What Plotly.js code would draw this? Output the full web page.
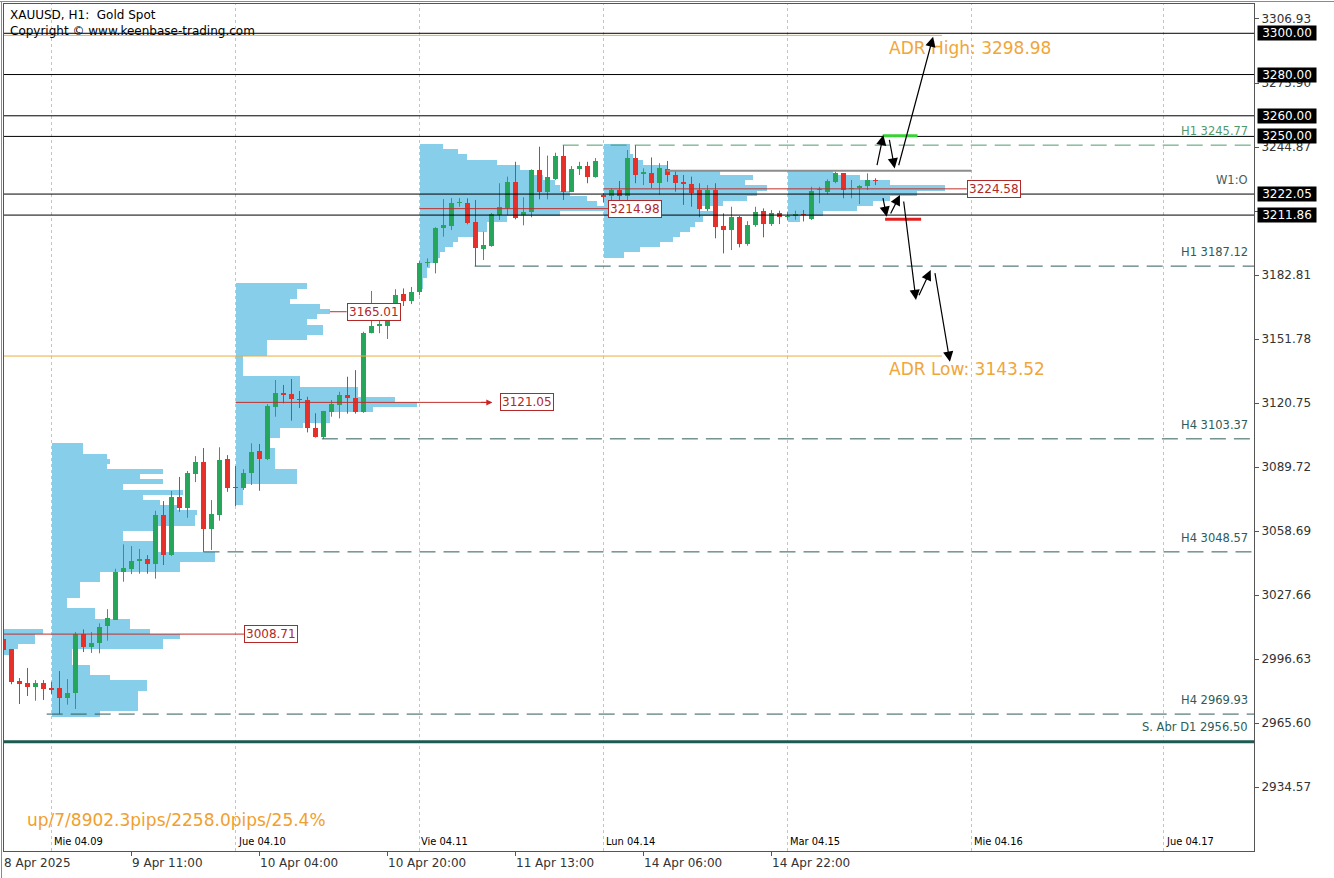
<!DOCTYPE html>
<html><head><meta charset="utf-8">
<script src="https://cdn.plot.ly/plotly-3.0.1.min.js"></script>
<style>html,body{margin:0;padding:0;background:#fff}#chart{width:1334px;height:878px}</style>
</head><body><div id="chart"></div>
<script>
// ---------------- DATA ----------------
const opens = [3006.3,3001.3,2986.0,2985.0,2983.3,2985.0,2982.7,2982.7,2977.9,2980.0,
3008.6,3002.6,3004.2,3012.8,3015.7,3038.8,3040.3,3044.0,3045.2,3042.7,
3066.4,3047.1,3075.2,3070.0,3086.2,3092.1,3059.7,3066.4,3093.6,3080.0,
3079.4,3086.6,3097.5,3093.6,3118.9,3125.6,3124.9,3122.7,3122.1,3108.5,
3104.4,3116.5,3119.8,3124.6,3123.3,3116.5,3154.5,3158.3,3158.2,3162.9,
3173.6,3170.3,3174.5,3188.5,3188.8,3205.5,3206.7,3217.8,3217.9,3208.6,
3195.4,3197.0,3211.9,3215.4,3228.1,3212.1,3213.5,3233.7,3223.2,3229.2,
3240.6,3223.2,3234.1,3235.7,3230.5,3221.6,3221.1,3224.0,3221.1,3239.4,
3231.6,3232.4,3227.3,3234.1,3231.3,3228.0,3226.9,3224.0,3214.9,3224.0,
3206.6,3204.6,3210.8,3197.8,3207.0,3213.9,3207.5,3212.7,3211.0,3211.6,
3212.4,3209.8,3224.0,3223.2,3227.7,3232.1,3224.7,3225.2,3225.9,3228.8];
const highs = [3006.8,3001.5,2987.4,2992.3,2986.4,2986.4,2985.6,2990.8,2986.9,3009.7,
3011.0,3009.7,3013.9,3020.8,3040.4,3052.2,3051.4,3050.0,3047.0,3068.5,
3073.2,3078.1,3084.9,3087.8,3095.0,3098.9,3073.7,3099.3,3095.5,3090.2,
3088.7,3101.2,3100.9,3120.2,3131.9,3129.5,3132.4,3126.6,3123.8,3115.8,
3116.9,3122.2,3126.2,3133.5,3136.7,3155.3,3175.1,3164.4,3166.8,3175.9,
3176.3,3177.0,3189.5,3190.9,3206.0,3219.6,3220.1,3220.1,3220.0,3219.2,
3203.8,3212.9,3227.3,3230.5,3237.7,3220.5,3234.0,3245.0,3240.7,3242.1,
3245.77,3235.6,3237.7,3237.7,3239.5,3222.5,3224.8,3228.4,3243.4,3245.8,
3234.5,3239.8,3237.0,3238.1,3233.7,3231.3,3230.5,3227.3,3226.4,3227.3,
3212.7,3215.9,3211.4,3208.9,3215.9,3215.1,3214.3,3214.0,3213.5,3214.0,
3214.3,3225.6,3225.6,3229.2,3232.9,3232.1,3228.9,3226.4,3232.1,3229.7];
const lows = [3000.5,2984.4,2974.8,2978.7,2976.4,2976.8,2979.7,2970.0,2974.5,2972.4,
3000.0,2999.6,2999.4,3005.5,3015.6,3034.1,3037.8,3038.0,3038.0,3035.6,
3042.2,3046.6,3068.0,3065.1,3082.4,3048.6,3049.5,3063.7,3077.7,3070.8,
3078.6,3081.0,3078.2,3093.1,3114.1,3120.6,3112.2,3118.3,3106.5,3104.0,
3103.4,3114.1,3113.3,3115.6,3115.6,3116.0,3154.5,3154.6,3151.8,3162.5,
3167.8,3168.7,3173.0,3186.8,3183.6,3201.4,3204.6,3215.9,3207.4,3187.1,
3190.1,3196.5,3209.5,3211.9,3209.8,3206.9,3210.8,3219.5,3219.5,3228.9,
3219.2,3223.0,3231.3,3227.3,3230.0,3218.0,3217.6,3216.8,3216.8,3227.3,
3226.4,3225.0,3221.6,3228.0,3223.2,3216.8,3215.9,3210.8,3213.8,3200.6,
3193.3,3194.9,3196.2,3197.0,3206.2,3201.1,3206.6,3207.5,3209.5,3209.6,
3208.8,3209.5,3217.6,3222.0,3227.3,3220.0,3220.0,3217.2,3224.0,3226.4];
const closes = [3001.0,2985.6,2984.5,2983.2,2985.0,2982.2,2981.4,2977.9,2980.0,3008.6,
3002.6,3004.3,3012.0,3016.5,3038.8,3041.0,3044.1,3045.2,3042.7,3066.4,
3047.1,3075.2,3070.0,3086.7,3092.1,3059.7,3066.8,3093.1,3079.5,3079.5,
3087.0,3097.0,3093.6,3119.4,3125.4,3124.6,3122.5,3122.2,3108.5,3104.4,
3116.9,3120.1,3124.6,3123.0,3116.5,3154.8,3158.2,3158.9,3162.9,3173.3,
3170.3,3174.4,3188.8,3189.3,3205.7,3206.9,3217.6,3218.2,3208.2,3195.8,
3197.4,3212.2,3215.6,3228.1,3210.3,3213.3,3233.7,3223.2,3230.5,3240.6,
3223.2,3234.2,3235.7,3230.5,3238.1,3220.7,3224.0,3221.1,3239.4,3231.3,
3232.6,3227.3,3234.8,3231.3,3227.6,3226.8,3222.7,3214.9,3224.0,3206.2,
3204.6,3210.8,3197.8,3207.0,3213.5,3207.5,3212.7,3210.8,3211.6,3212.2,
3211.8,3223.5,3224.7,3228.4,3232.1,3224.0,3225.2,3225.9,3228.9,3228.3];

// Volume profiles: start bar, price levels and lengths (in bars)
const vp0Start = -17;
const vp0Levels = [3000.0,3002.5,3005.0,3007.5,3010.0];
const vp0Len = [18.1,18.8,20.9,20.9,21.9];

const vp1Start = 6;
const vp1Levels = [2970,2972.5,2975,2977.5,2980,2982.5,2985,2987.5,2990,2992.5,2995,2997.5,3000,3002.5,3005,3007.5,3010,3012.5,3015,3017.5,3020,3022.5,3025,3027.5,3030,3032.5,3035,3037.5,3040,3042.5,3045,3047.5,3050,3052.5,3055,3057.5,3060,3062.5,3065,3067.5,3070,3072.5,3075,3077.5,3080,3082.5,3085,3087.5,3090,3092.5,3095,3097.5,3100];
const vp1Len = [6.1,10.8,10.8,10.8,10.8,11.9,11.9,7.3,4.8,4.8,2.6,2.6,2.6,13.9,13.9,16.1,12.3,9.8,9.8,5.4,5.4,1.9,1.9,3.6,3.6,3.6,6.1,6.1,16.1,16.1,20.4,20.4,12.9,12.9,8.9,8.9,12.7,17.9,17.9,18.2,15.7,13.6,11.4,16.4,8.9,13.9,11.1,13.9,6.9,7.3,6.9,3.9,3.9];

const vp2Start = 29;
const vp2Levels = [3072.5,3075,3077.5,3080,3082.5,3085,3087.5,3090,3092.5,3095,3097.5,3100,3102.5,3105,3107.5,3110,3112.5,3115,3117.5,3120,3122.5,3125,3127.5,3130,3132.5,3135,3137.5,3140,3142.5,3145,3147.5,3150,3152.5,3155,3157.5,3160,3162.5,3165,3167.5,3170,3172.5,3175,3177.5];
const vp2Len = [0.9,0.9,0.9,0.9,7.7,7.7,7.7,4.9,4.9,4.9,4.9,3.9,3.9,5.6,5.6,8.4,11.8,11.8,17.2,22.7,19.9,15.3,15.3,8.1,8.1,0.9,0.9,0.9,0.9,3.9,3.9,3.9,8.9,10.9,10.9,8.9,10.2,11.8,10.6,6.8,7.7,7.7,8.9];

const vp3Start = 52;
const vp3Levels = [3177.5,3180,3182.5,3185,3187.5,3190,3192.5,3195,3197.5,3200,3202.5,3205,3207.5,3210,3212.5,3215,3217.5,3220,3222.5,3225,3227.5,3230,3232.5,3235,3237.5,3240,3242.5,3245];
const vp3Len = [0.4,0.4,0.9,0.9,1.3,1.9,2.6,3.2,4.2,4.8,7.2,8.4,8.4,10.9,17.6,23.2,22.2,20.9,18.8,17.6,16.9,15.4,14.2,12.6,9.7,5.9,4.8,2.9];

const vp4Start = 75;
const vp4Levels = [3192.5,3195,3197.5,3200,3202.5,3205,3207.5,3210,3212.5,3215,3217.5,3220,3222.5,3225,3227.5,3230,3232.5,3235,3237.5,3240,3242.5,3245];
const vp4Len = [2.5,4.6,7.1,8.7,9.6,10.8,11.4,12.4,14.2,12.1,14.9,17.9,19.2,20.4,17.7,18.7,14.6,7.9,4.9,3.7,3.3,3.3];

const vp5Start = 98;
const vp5Levels = [3210,3212.5,3215,3217.5,3220,3222.5,3225,3227.5,3230,3232.5];
const vp5Len = [1.6,4.4,8.7,10.7,12.8,16.2,19.7,12.8,9.1,5.7];

// Point of control labels
const pocValues = [3008.71, 3121.05, 3165.01, 3214.98, 3224.58];
const pocLineFrom = [0, 29, 40.8, 52, 75];
const pocLabelAt = [30.06, 62.06, 42.9, 75.56, 120.4];

// Levels
const blackLevels = [3300.00, 3280.00, 3260.00, 3250.00, 3222.05, 3211.86];
const srLevels = [3245.77, 3187.12, 3103.37, 3048.57, 2969.93];
const srNames = ['H1', 'H1', 'H4', 'H4', 'H4'];
const srFrom = [69.9, 58.9, 39.8, 25.0, 5.4];
const supportD1 = 2956.50;
const weeklyOpen = 3222.05;
const adrHigh = 3298.98, adrLow = 3143.52, adrEnd = 117.3;
const monHighLine = {price: 3233.4, from: 82.9, to: 121};
const targetUp = {price: 3250.3, from: 109.9, to: 114.25};
const targetDn = {price: 3209.8, from: 110.2, to: 114.7};

// Projection path (drawn arrows)
const projFromK = [109.15,110.7,111.85,109.9,110.8,112.5,114.35,116.4];
const projFromP = [3235.3,3249.1,3235.3,3220.8,3211.9,3219.2,3172.3,3184.4];
const projToK   = [109.98,111.4,116.2,110.4,112.06,114.06,115.9,118.3];
const projToP   = [3250.7,3234.5,3298.35,3211.1,3221.6,3170.7,3185.2,3140.8];

// Axis labels
const yTicks = [3306.93,3275.90,3244.87,3213.84,3182.81,3151.78,3120.75,3089.72,3058.69,3027.66,2996.63,2965.60,2934.57];
const yTickHidden = [3213.84];   // label covered by the 3211.86 price box in the original
const timeTickBars = [0,16,32,48,64,80,96];
const timeTickLabels = ['8 Apr 2025','9 Apr 11:00','10 Apr 04:00','10 Apr 20:00','11 Apr 13:00','14 Apr 06:00','14 Apr 22:00'];
const dayBars = [6,29,52,75,98,121,145];
const dayLabels = ['Mie 04.09','Jue 04.10','Vie 04.11','Lun 04.14','Mar 04.15','Mie 04.16','Jue 04.17'];
const statsText = 'up/7/8902.3pips/2258.0pips/25.4%';

// ---------------- BUILD ----------------
const GREEN = '#26a65b', RED = '#e8302a', BLUE = '#87ceeb', TEAL = '#2e5c59';
const FONT = 'DejaVu Sans, Verdana, sans-serif';
const X0 = 0.0625, X1 = 156.3125, Y0 = 2903.55, Y1 = 3314.2;
const PL = 4, PW = 1250;
const idx = opens.map((_, i) => i);
const toPaperX = k => ((3.5 + 8 * k) - PL) / PW;

const traces = [];
function profile(start, levels, len) {
  traces.push({type:'bar', orientation:'h', y:levels, x:len, base:start, width:2.5,
    marker:{color:BLUE, line:{width:0}}, hoverinfo:'skip'});
}
profile(vp0Start, vp0Levels, vp0Len);
profile(vp1Start, vp1Levels, vp1Len);
profile(vp2Start, vp2Levels, vp2Len);
profile(vp3Start, vp3Levels, vp3Len);
profile(vp4Start, vp4Levels, vp4Len);
profile(vp5Start, vp5Levels, vp5Len);

// candle bodies
const bodyBase = idx.map(i => Math.min(opens[i], closes[i]));
const bodyH = idx.map(i => Math.max(Math.abs(closes[i] - opens[i]), 0.5));
const bodyCol = idx.map(i => closes[i] >= opens[i] ? GREEN : RED);
traces.push({type:'bar', x:idx, y:bodyH, base:bodyBase, width:0.64,
  marker:{color:bodyCol, line:{width:0}}, hoverinfo:'skip'});
// wicks
['g','r'].forEach(c => {
  const xs = [], ys = [];
  idx.forEach(i => {
    const up = closes[i] >= opens[i];
    if ((c === 'g') === up) { xs.push(i, i, null); ys.push(lows[i], highs[i], null); }
  });
  traces.push({type:'scatter', mode:'lines', x:xs, y:ys, line:{color: c === 'g' ? GREEN : RED, width:1},
    hoverinfo:'skip'});
});

const shapes = [];
const annotations = [];
// day separators
dayBars.forEach(k => shapes.push({type:'line', layer:'below', xref:'x', yref:'paper', x0:k, x1:k, y0:0, y1:1,
  line:{color:'#c4c4c4', width:1, dash:'3px,3px'}}));
// black levels
blackLevels.forEach(v => {
  shapes.push({type:'line', layer:'above', xref:'paper', yref:'y', x0:0, x1:1, y0:v, y1:v, line:{color:'#000', width:1}});
  annotations.push({xref:'paper', yref:'y', x:1, y:v, xanchor:'left', yanchor:'middle', xshift:3,
    text:v.toFixed(2), showarrow:false, bgcolor:'#000', width:56, height:12, borderpad:1,
    font:{family:FONT, size:12, color:'#fff'}});
});
// support/resistance dashed levels
srLevels.forEach((v, i) => {
  const col = i === 0 ? '#4f9a6c' : TEAL;
  shapes.push({type:'line', layer:'above', xref:'x', yref:'y', x0:srFrom[i], x1:X1, y0:v, y1:v,
    line:{color:col, width:1, dash:'16px,8px'}});
  annotations.push({xref:'paper', yref:'y', x:1, y:v, xanchor:'right', yanchor:'bottom', xshift:-4, yshift:5,
    text:srNames[i] + ' ' + v.toFixed(2), showarrow:false, font:{family:FONT, size:11.5, color:col}});
});
shapes.push({type:'line', layer:'above', xref:'paper', yref:'y', x0:0, x1:1, y0:supportD1, y1:supportD1,
  line:{color:'#1d5a50', width:3}});
annotations.push({xref:'paper', yref:'y', x:1, y:supportD1, xanchor:'right', yanchor:'bottom', xshift:-4, yshift:6,
  text:'S. Abr D1 ' + supportD1.toFixed(2), showarrow:false, bgcolor:'#fff', font:{family:FONT, size:11.5, color:TEAL}});
annotations.push({xref:'paper', yref:'y', x:1, y:weeklyOpen, xanchor:'right', yanchor:'bottom', xshift:-4, yshift:5,
  text:'W1:O', showarrow:false, font:{family:FONT, size:11.5, color:'#3f5f5d'}});
// ADR lines
[[adrHigh, 'ADR High: '], [adrLow, 'ADR Low: ']].forEach(([v, t]) => {
  shapes.push({type:'line', layer:'above', xref:'x', yref:'y', x0:X0, x1:adrEnd, y0:v, y1:v, line:{color:'#e8ad3c', width:1}});
  annotations.push({xref:'x', yref:'y', x:110.44, y:v, xanchor:'left', yanchor:'top', yshift:-1,
    text:t + v.toFixed(2), showarrow:false, font:{family:FONT, size:17, color:'#f0a63a'}});
});
// POC lines + labels
pocValues.forEach((v, i) => {
  const end = i === 1 ? 61.0 : pocLabelAt[i];
  shapes.push({type:'line', layer:'above', xref:'x', yref:'y', x0:pocLineFrom[i], x1:end, y0:v, y1:v,
    line:{color:'#c0302c', width:1}});
  annotations.push({xref:'x', yref:'y', x:pocLabelAt[i], y:v, xanchor:'left', yanchor:'middle',
    text:v.toFixed(2), showarrow:false, bgcolor:'#fff', bordercolor:'#b02828', borderwidth:1, borderpad:1,
    font:{family:FONT, size:12, color:'#b02828'}});
});
annotations.push({xref:'x', yref:'y', axref:'x', ayref:'y', x:61.1, y:pocValues[1], ax:59.5, ay:pocValues[1],
  text:'', showarrow:true, arrowhead:2, arrowsize:1.2, arrowwidth:1, arrowcolor:'#d02020', standoff:0});
// Monday high grey line
shapes.push({type:'line', layer:'above', xref:'x', yref:'y', x0:monHighLine.from, x1:monHighLine.to,
  y0:monHighLine.price, y1:monHighLine.price, line:{color:'#8c8c8c', width:2}});
// target bars
shapes.push({type:'line', layer:'above', xref:'x', yref:'y', x0:targetUp.from, x1:targetUp.to,
  y0:targetUp.price, y1:targetUp.price, line:{color:'#36d236', width:3}});
shapes.push({type:'line', layer:'above', xref:'x', yref:'y', x0:targetDn.from, x1:targetDn.to,
  y0:targetDn.price, y1:targetDn.price, line:{color:'#e02020', width:3}});
// projection arrows
projFromK.forEach((k, i) => annotations.push({xref:'x', yref:'y', axref:'x', ayref:'y',
  x:projToK[i], y:projToP[i], ax:k, ay:projFromP[i], text:'', showarrow:true,
  arrowhead:2, arrowsize:1.7, arrowwidth:1.2, arrowcolor:'#000', standoff:0}));
// time labels below
timeTickBars.forEach((k, i) => annotations.push({xref:'paper', yref:'paper', x:toPaperX(k), y:0,
  xanchor:'left', yanchor:'top', xshift:-2, yshift:-3, text:timeTickLabels[i], showarrow:false,
  font:{family:FONT, size:12, color:'#333'}}));
// day labels inside
dayBars.forEach((k, i) => annotations.push({xref:'paper', yref:'paper', x:toPaperX(k), y:0,
  xanchor:'left', yanchor:'bottom', xshift:0, yshift:1, text:dayLabels[i], showarrow:false,
  font:{family:'DejaVu Sans Condensed, DejaVu Sans, sans-serif', size:11, color:'#000'}}));
// header
annotations.push({xref:'paper', yref:'paper', x:(8 - PL) / PW, y:(851 - 15) / 847, xanchor:'left', yanchor:'middle',
  text:'XAUUSD, H1:\u00a0 Gold Spot', showarrow:false, font:{family:FONT, size:12, color:'#000'}});
annotations.push({xref:'paper', yref:'paper', x:(8 - PL) / PW, y:(851 - 31) / 847, xanchor:'left', yanchor:'middle',
  text:'Copyright \u00a9 www.keenbase-trading.com', showarrow:false, font:{family:FONT, size:12, color:'#000'}});
annotations.push({xref:'paper', yref:'paper', x:(25 - PL) / PW, y:(851 - 820) / 847, xanchor:'left', yanchor:'middle',
  text:statsText, showarrow:false, font:{family:FONT, size:17, color:'#f0a030'}});
// outer frame
shapes.push({type:'line', layer:'above', xref:'paper', yref:'paper', x0:-PL / PW, x1:1330 / PW, y0:(851 - 1.5) / 847, y1:(851 - 1.5) / 847,
  line:{color:'#8a8a8a', width:1}});
shapes.push({type:'line', layer:'above', xref:'paper', yref:'paper', x0:(1.5 - PL) / PW, x1:(1.5 - PL) / PW, y0:-27 / 847, y1:(851 - 1.5) / 847,
  line:{color:'#8a8a8a', width:1}});

const layout = {
  width:1334, height:878, margin:{l:PL, r:80, t:4, b:27, pad:0},
  paper_bgcolor:'#fff', plot_bgcolor:'#fff', showlegend:false, barmode:'overlay', bargap:0,
  xaxis:{range:[X0, X1], showgrid:false, zeroline:false, showline:true, linecolor:'#555', linewidth:1, mirror:true,
    ticks:'outside', ticklen:4, tickcolor:'#555', tickvals:timeTickBars, showticklabels:false, fixedrange:true},
  yaxis:{range:[Y0, Y1], side:'right', showgrid:false, zeroline:false, showline:true, linecolor:'#555', linewidth:1, mirror:true,
    ticks:'outside', ticklen:4, tickcolor:'#555', tickvals:yTicks,
    ticktext:yTicks.map(v => yTickHidden.includes(v) ? '' : v.toFixed(2)),
    tickfont:{family:FONT, size:12, color:'#333'}, fixedrange:true},
  shapes, annotations
};
Plotly.newPlot('chart', traces, layout, {staticPlot:true, displayModeBar:false});
</script></body></html>
